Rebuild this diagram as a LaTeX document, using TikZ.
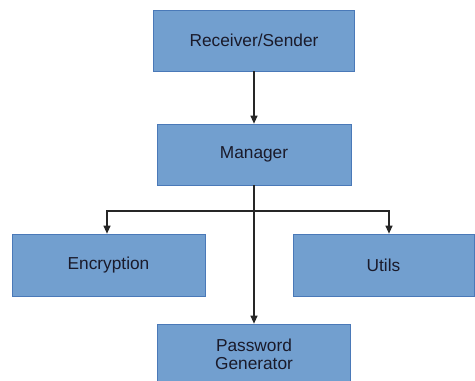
\documentclass[tikz,border=0pt]{standalone}
\usepackage{fontspec}
\setmainfont{Liberation Sans}
\usetikzlibrary{arrows.meta}
\definecolor{boxfill}{HTML}{729FCF}
\definecolor{boxline}{HTML}{4A79B8}
\definecolor{txt}{HTML}{1A1A2A}
\begin{document}
\begin{tikzpicture}[x=1pt,y=-1pt,
  box/.style={draw=boxline,fill=boxfill,line width=0.7pt,rectangle,inner sep=0pt,
    text=txt,font=\fontsize{17.3}{18.5}\selectfont,align=center},
  conn/.style={draw=black!85,line width=1.2pt,-{Triangle[length=8pt,width=7pt]}}]
\useasboundingbox (0,0) rectangle (475,381);
\clip (0,0) rectangle (475,381);
\fill[white] (0,0) rectangle (475,381);
\node[box,minimum width=201pt,minimum height=61pt] (rs) at (254,40.5) {Receiver/Sender};
\node[box,minimum width=194pt,minimum height=61pt] (mg) at (254,154.5) {Manager};
\node[box,minimum width=193pt,minimum height=62pt] (en) at (108.5,265) {Encryption};
\node[box,minimum width=181pt,minimum height=62pt] (ut) at (383.5,265) {Utils};
\node[box,minimum width=193pt,minimum height=61pt] (pg) at (254,354.5) {Password\\Generator};
\coordinate (j) at (254,211);
\coordinate (jl) at (107,211);
\coordinate (jr) at (389,211);
\draw[conn] (rs.south) -- (mg.north);
\draw[conn] (mg.south) -- (pg.north);
\draw[conn] (j) -- (jl) -- (jl |- en.north);
\draw[conn] (j) -- (jr) -- (jr |- ut.north);
\end{tikzpicture}
\end{document}
